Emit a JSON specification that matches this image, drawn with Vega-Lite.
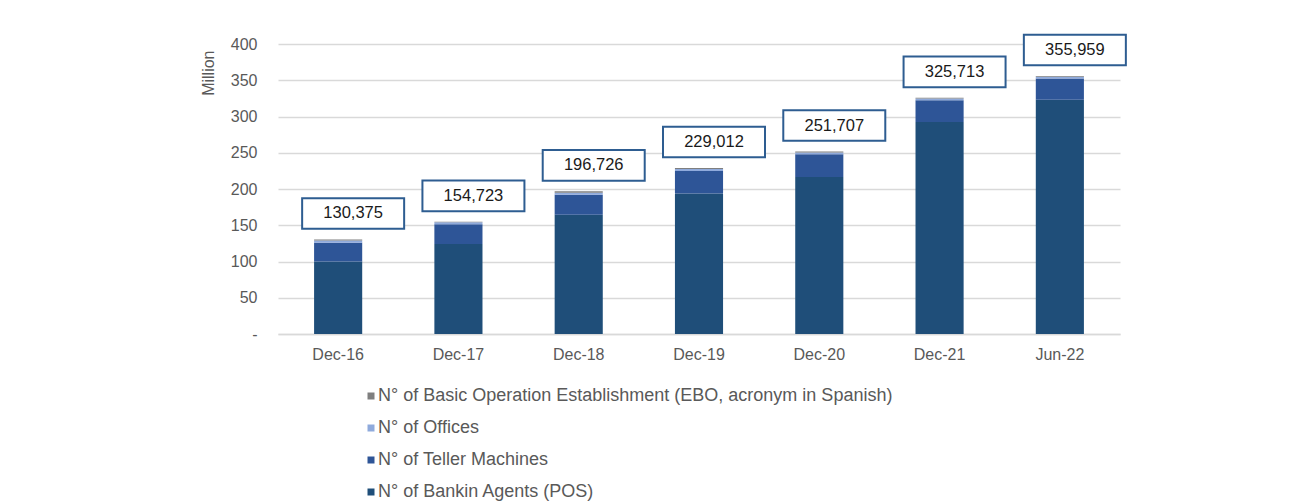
{
  "$schema": "https://vega.github.io/schema/vega-lite/v6.json",
  "width": 842,
  "height": 290,
  "autosize": {"type": "none"},
  "padding": {"left": 278, "top": 44, "right": 192, "bottom": 168},
  "background": "white",
  "config": {
    "font": "Liberation Sans",
    "view": {"stroke": null},
    "axisX": {
      "title": null, "labelAngle": 0, "labelFontSize": 16, "labelColor": "#595959",
      "labelPadding": 12, "ticks": false, "domain": true, "domainColor": "#D9D9D9",
      "domainWidth": 1.5, "grid": false
    },
    "axisY": {
      "titleFontSize": 16, "titleFontWeight": "normal", "titleColor": "#595959",
      "titleAlign": "right", "titleBaseline": "bottom", "titlePadding": 14, "titleY": 6,
      "labelFontSize": 16, "labelColor": "#595959", "labelPadding": 21, "labelOverlap": false,
      "ticks": false, "domain": false, "grid": true, "gridColor": "#D9D9D9", "gridWidth": 1.5
    }
  },
  "datasets": {
    "stack": [
      {"period": "Dec-16", "series": "N° of Bankin Agents (POS)", "rank": 1, "value": 100.0},
      {"period": "Dec-16", "series": "N° of Teller Machines", "rank": 2, "value": 26.0},
      {"period": "Dec-16", "series": "N° of Offices", "rank": 3, "value": 3.0},
      {"period": "Dec-16", "series": "N° of Basic Operation Establishment (EBO, acronym in Spanish)", "rank": 4, "value": 1.375},
      {"period": "Dec-17", "series": "N° of Bankin Agents (POS)", "rank": 1, "value": 124.0},
      {"period": "Dec-17", "series": "N° of Teller Machines", "rank": 2, "value": 27.5},
      {"period": "Dec-17", "series": "N° of Offices", "rank": 3, "value": 2.5},
      {"period": "Dec-17", "series": "N° of Basic Operation Establishment (EBO, acronym in Spanish)", "rank": 4, "value": 0.723},
      {"period": "Dec-18", "series": "N° of Bankin Agents (POS)", "rank": 1, "value": 164.5},
      {"period": "Dec-18", "series": "N° of Teller Machines", "rank": 2, "value": 27.5},
      {"period": "Dec-18", "series": "N° of Offices", "rank": 3, "value": 3.0},
      {"period": "Dec-18", "series": "N° of Basic Operation Establishment (EBO, acronym in Spanish)", "rank": 4, "value": 1.726},
      {"period": "Dec-19", "series": "N° of Bankin Agents (POS)", "rank": 1, "value": 193.7},
      {"period": "Dec-19", "series": "N° of Teller Machines", "rank": 2, "value": 31.0},
      {"period": "Dec-19", "series": "N° of Offices", "rank": 3, "value": 3.0},
      {"period": "Dec-19", "series": "N° of Basic Operation Establishment (EBO, acronym in Spanish)", "rank": 4, "value": 1.312},
      {"period": "Dec-20", "series": "N° of Bankin Agents (POS)", "rank": 1, "value": 216.6},
      {"period": "Dec-20", "series": "N° of Teller Machines", "rank": 2, "value": 31.3},
      {"period": "Dec-20", "series": "N° of Offices", "rank": 3, "value": 2.5},
      {"period": "Dec-20", "series": "N° of Basic Operation Establishment (EBO, acronym in Spanish)", "rank": 4, "value": 1.307},
      {"period": "Dec-21", "series": "N° of Bankin Agents (POS)", "rank": 1, "value": 292.4},
      {"period": "Dec-21", "series": "N° of Teller Machines", "rank": 2, "value": 30.0},
      {"period": "Dec-21", "series": "N° of Offices", "rank": 3, "value": 2.4},
      {"period": "Dec-21", "series": "N° of Basic Operation Establishment (EBO, acronym in Spanish)", "rank": 4, "value": 0.913},
      {"period": "Jun-22", "series": "N° of Bankin Agents (POS)", "rank": 1, "value": 323.0},
      {"period": "Jun-22", "series": "N° of Teller Machines", "rank": 2, "value": 29.5},
      {"period": "Jun-22", "series": "N° of Offices", "rank": 3, "value": 2.5},
      {"period": "Jun-22", "series": "N° of Basic Operation Establishment (EBO, acronym in Spanish)", "rank": 4, "value": 0.959}
    ],
    "totals": [
      {"period": "Dec-16", "total": 130.375, "label": "130,375"},
      {"period": "Dec-17", "total": 154.723, "label": "154,723"},
      {"period": "Dec-18", "total": 196.726, "label": "196,726"},
      {"period": "Dec-19", "total": 229.012, "label": "229,012"},
      {"period": "Dec-20", "total": 251.707, "label": "251,707"},
      {"period": "Dec-21", "total": 325.713, "label": "325,713"},
      {"period": "Jun-22", "total": 355.959, "label": "355,959"}
    ]
  },
  "layer": [
    {
      "data": {"name": "stack"},
      "mark": {"type": "bar"},
      "encoding": {
        "x": {
          "field": "period", "type": "nominal", "sort": null,
          "scale": {"paddingInner": 0.6, "paddingOuter": 0.3}
        },
        "y": {
          "field": "value", "type": "quantitative", "stack": "zero",
          "scale": {"domain": [0, 400], "nice": false},
          "axis": {
            "title": "Million", "titleAnchor": "end",
            "values": [0, 50, 100, 150, 200, 250, 300, 350, 400],
            "labelExpr": "datum.value === 0 ? '-\u2002' : datum.label"
          }
        },
        "color": {
          "field": "series", "type": "nominal",
          "scale": {
            "domain": [
              "N° of Basic Operation Establishment (EBO, acronym in Spanish)",
              "N° of Offices",
              "N° of Teller Machines",
              "N° of Bankin Agents (POS)"
            ],
            "range": ["#7F7F7F", "#8FAADC", "#2E5597", "#1F4E79"]
          },
          "legend": {
            "title": null, "orient": "none", "legendX": 84, "legendY": 343, "direction": "vertical",
            "symbolType": "square", "symbolSize": 49, "symbolStrokeWidth": 0, "labelFontSize": 18,
            "labelColor": "#595959", "labelOffset": -2, "rowPadding": 14, "padding": 0, "labelLimit": 900
          }
        },
        "order": {"field": "rank", "type": "quantitative"}
      }
    },
    {
      "data": {"name": "totals"},
      "mark": {
        "type": "point", "shape": "M-1,-0.3H1V0.3H-1Z", "size": 10404, "filled": true,
        "fill": "white", "fillOpacity": 1, "stroke": "#2E5D91", "strokeOpacity": 1, "strokeWidth": 2,
        "opacity": 1, "xOffset": 15, "yOffset": -26
      },
      "encoding": {
        "x": {"field": "period", "type": "nominal", "sort": null},
        "y": {
          "field": "total", "type": "quantitative",
          "axis": {
            "title": "Million", "titleAnchor": "end",
            "values": [0, 50, 100, 150, 200, 250, 300, 350, 400],
            "labelExpr": "datum.value === 0 ? '-\u2002' : datum.label"
          }
        }
      }
    },
    {
      "data": {"name": "totals"},
      "mark": {"type": "text", "fontSize": 16.5, "color": "#1A1A1A", "dx": 15, "dy": -26, "baseline": "middle", "align": "center"},
      "encoding": {
        "x": {"field": "period", "type": "nominal", "sort": null},
        "y": {
          "field": "total", "type": "quantitative",
          "axis": {
            "title": "Million", "titleAnchor": "end",
            "values": [0, 50, 100, 150, 200, 250, 300, 350, 400],
            "labelExpr": "datum.value === 0 ? '-\u2002' : datum.label"
          }
        },
        "text": {"field": "label"}
      }
    }
  ]
}
